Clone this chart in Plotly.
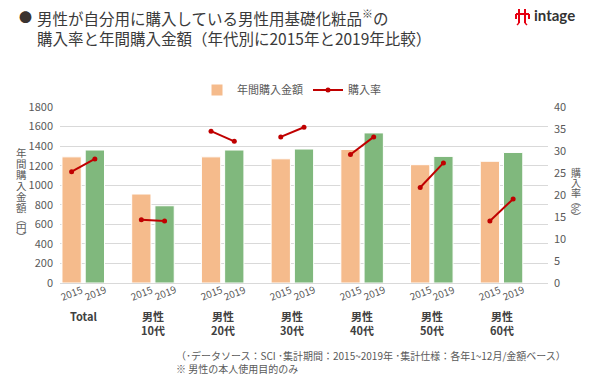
import plotly.graph_objects as go

# ---------------- data ----------------
groups = ["Total", "男性<br>10代", "男性<br>20代", "男性<br>30代", "男性<br>40代", "男性<br>50代", "男性<br>60代"]
years = ["2015", "2019"]
amount_2015 = [1290, 910, 1290, 1270, 1365, 1210, 1245]
amount_2019 = [1360, 790, 1360, 1370, 1535, 1295, 1335]
rate_2015 = [25.3, 14.4, 34.5, 33.2, 29.2, 21.7, 14.1]
rate_2019 = [28.2, 14.1, 32.2, 35.4, 33.2, 27.3, 19.1]
left_ticks = [0, 200, 400, 600, 800, 1000, 1200, 1400, 1600, 1800]
right_ticks = [0, 5, 10, 15, 20, 25, 30, 35, 40]

FONT = "Noto Sans CJK JP"
C15 = "#F5BB8C"
C19 = "#80B87D"
CLINE = "#C00000"
GRAY = "#595959"

# positions: 3 slots per group (2015, 2019, blank)
x15 = [3 * i for i in range(len(groups))]
x19 = [3 * i + 1 for i in range(len(groups))]

# figure pixel geometry
W, H = 600, 382
L, R, T, B = 60, 52, 107, 99
PW, PH = W - L - R, H - T - B

def pxx(p):
    return (p - L) / PW

def pxy(p):
    return (H - B - p) / PH

fig = go.Figure()
fig.add_trace(go.Bar(x=x15, y=amount_2015, name="年間購入金額", width=0.83,
                     marker=dict(color=C15, line=dict(color="white", width=1)),
                     yaxis="y", showlegend=True))
fig.add_trace(go.Bar(x=x19, y=amount_2019, name="年間購入金額2019", width=0.83,
                     marker=dict(color=C19, line=dict(color="white", width=1)),
                     yaxis="y", showlegend=False))

lx, ly = [], []
for a, b, r1, r2 in zip(x15, x19, rate_2015, rate_2019):
    lx += [a, b, None]
    ly += [r1, r2, None]
fig.add_trace(go.Scatter(x=lx, y=ly, name="購入率", mode="lines+markers",
                         line=dict(color=CLINE, width=2),
                         marker=dict(color=CLINE, size=5),
                         connectgaps=False, yaxis="y2"))

ann = []
# year labels
for yr, xs in zip(years, (x15, x19)):
    for xv in xs:
        ann.append(dict(x=xv, y=pxy(292), xref="x", yref="paper",
                        text=yr, showarrow=False,
                        textangle=-22, font=dict(family=FONT, size=10, color=GRAY),
                        xanchor="center", yanchor="middle", borderpad=0))
# group labels
for i, g in enumerate(groups):
    ann.append(dict(x=3 * i + 0.5, y=pxy(306), xref="x", yref="paper",
                    text="<b>" + g + "</b>", showarrow=False,
                    font=dict(family=FONT, size=11, color="#404040"),
                    xanchor="center", yanchor="top"))

# left vertical axis title
left_chars = ["年", "間", "購", "入", "金", "額", "︵", "円", "︶"]
left_y = [152, 163, 174, 185, 196, 207, 218, 227, 236]
for c, yy in zip(left_chars, left_y):
    ann.append(dict(x=pxx(21), y=pxy(yy), xref="paper", yref="paper", text=c,
                    showarrow=False, font=dict(family=FONT, size=10.5, color=GRAY),
                    xanchor="center", yanchor="middle", borderpad=0))
# right vertical axis title
right_chars = ["購", "入", "率", "︵", "%", "︶"]
right_y = [172, 182, 192, 200, 208, 216]
for c, yy in zip(right_chars, right_y):
    ann.append(dict(x=pxx(576), y=pxy(yy), xref="paper", yref="paper", text=c,
                    showarrow=False, textangle=90 if c == "%" else 0,
                    font=dict(family=FONT, size=10, color=GRAY),
                    xanchor="center", yanchor="middle", borderpad=0))

# title
ann.append(dict(x=pxx(17), y=pxy(16), xref="paper", yref="paper", text="●",
                showarrow=False, font=dict(family=FONT, size=13, color="#3B3330"),
                xanchor="left", yanchor="middle"))
ann.append(dict(x=pxx(35), y=pxy(17), xref="paper", yref="paper",
                text="男性が自分用に購入している男性用基礎化粧品<sup>※</sup>の",
                showarrow=False, font=dict(family=FONT, size=15.5, color="#3A3A3A"),
                xanchor="left", yanchor="middle"))
ann.append(dict(x=pxx(35), y=pxy(38), xref="paper", yref="paper",
                text="購入率と年間購入金額（年代別に2015年と2019年比較）",
                showarrow=False, font=dict(family=FONT, size=15.5, color="#3A3A3A"),
                xanchor="left", yanchor="middle"))

# logo text
ann.append(dict(x=pxx(532), y=pxy(15), xref="paper", yref="paper", text="<b>intage</b>",
                showarrow=False, font=dict(family="Lato", size=15, color="#333333"),
                xanchor="left", yanchor="middle"))

# footnote
ann.append(dict(x=pxx(174), y=pxy(355), xref="paper", yref="paper",
                text="（･データソース：SCI ･集計期間：2015~2019年 ･集計仕様：各年1~12月/金額ベース）",
                showarrow=False, font=dict(family=FONT, size=10, color=GRAY),
                xanchor="left", yanchor="middle"))
ann.append(dict(x=pxx(174), y=pxy(368), xref="paper", yref="paper",
                text="※ 男性の本人使用目的のみ",
                showarrow=False, font=dict(family=FONT, size=10, color=GRAY),
                xanchor="left", yanchor="middle"))

# logo glyph (red mark) drawn with simple shapes
shapes = []
red = "#E60012"
def seg(x0, y0, x1, y1, w=2):
    shapes.append(dict(type="line", xref="paper", yref="paper",
                       x0=pxx(x0), y0=pxy(y0), x1=pxx(x1), y1=pxy(y1),
                       line=dict(color=red, width=w)))
seg(516, 14, 529, 14)
seg(519, 9, 519, 23)
seg(525, 9, 525, 23)
seg(516, 14, 516, 19)
seg(529, 14, 529, 19)
seg(519, 23, 517, 25, 1.5)
seg(525, 23, 527, 25, 1.5)

fig.update_layout(
    width=W, height=H,
    margin=dict(l=L, r=R, t=T, b=B, autoexpand=False),
    paper_bgcolor="white", plot_bgcolor="white",
    barmode="overlay",
    font=dict(family=FONT, size=11, color=GRAY),
    xaxis=dict(range=[-0.5, 20.5], showticklabels=False, showgrid=False,
               zeroline=False, showline=True, linecolor="#D9D9D9", linewidth=1,
               ticks="", automargin=False),
    yaxis=dict(range=[0, 1800], tickvals=left_ticks, showgrid=True,
               gridcolor="#D9D9D9", gridwidth=1, zeroline=False,
               tickfont=dict(family=FONT, size=11, color=GRAY), ticks="",
               ticklabelstandoff=6, automargin=False),
    yaxis2=dict(range=[0, 40], tickvals=right_ticks, overlaying="y", side="right",
                showgrid=False, zeroline=False, ticks="",
                tickfont=dict(family=FONT, size=11, color=GRAY),
                ticklabelstandoff=5, automargin=False),
    legend=dict(orientation="h", x=pxx(197), y=pxy(90), xanchor="left",
                yanchor="middle", font=dict(family=FONT, size=11, color=GRAY),
                bgcolor="rgba(0,0,0,0)", itemwidth=30, tracegroupgap=0),
    annotations=ann,
    shapes=shapes,
    showlegend=True,
)

fig.write_html("out.html", config={"displayModeBar": False},
               post_script="document.body.style.margin='0';document.body.style.padding='0';")
